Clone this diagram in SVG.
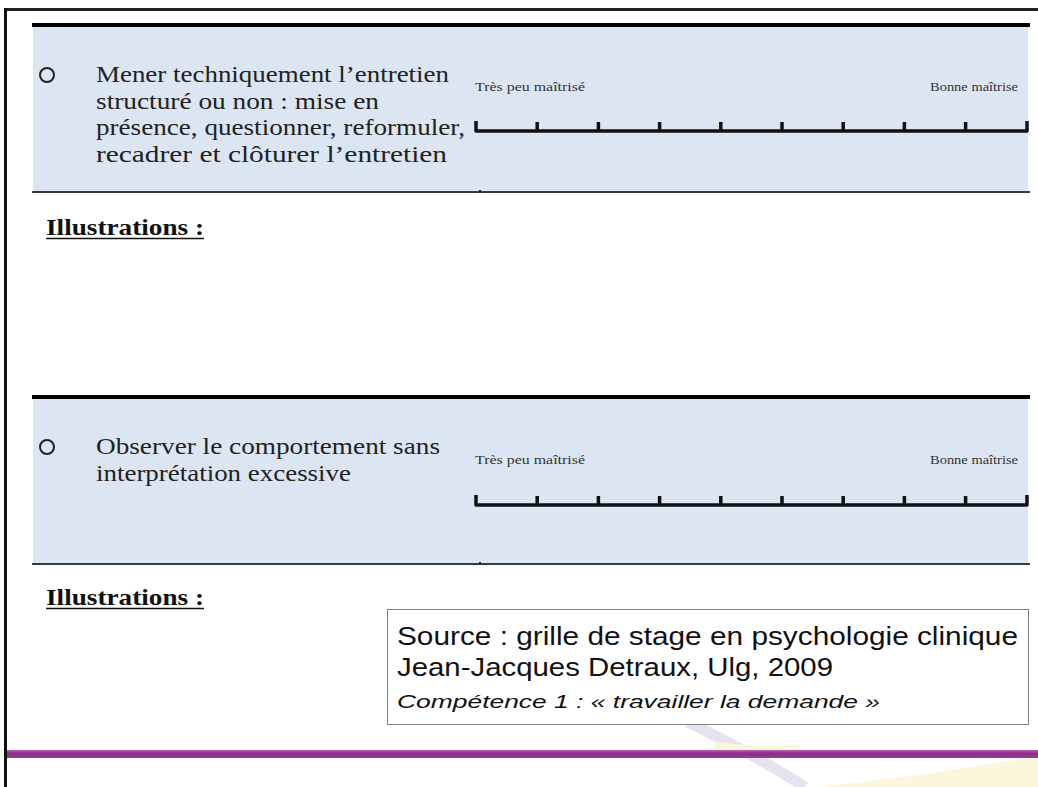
<svg xmlns="http://www.w3.org/2000/svg" width="1038" height="787" viewBox="0 0 1038 787">
<defs>
<style>
.band{fill:#dce6f2}
.topline{stroke:#000;stroke-width:4}
.botline{stroke:#3a3a3a;stroke-width:2}
.item{font-family:"Liberation Serif","Times New Roman",serif;font-size:24px;fill:#222}
.lab{font-family:"Liberation Serif","Times New Roman",serif;font-size:13px;fill:#333}
.bul{fill:none;stroke:#222;stroke-width:2}
.bar{fill:none;stroke:#111;stroke-width:3.5;stroke-linejoin:round}
.ill{font-family:"Liberation Serif","Times New Roman",serif;font-size:24px;font-weight:bold;fill:#111}
.src{font-family:"Liberation Sans",Arial,sans-serif;font-size:25px;fill:#111}
.srci{font-family:"Liberation Sans",Arial,sans-serif;font-size:19px;font-style:italic;fill:#111}
</style>
<linearGradient id="purple" x1="0" y1="0" x2="0" y2="1">
<stop offset="0" stop-color="#b667b3"/>
<stop offset="0.4" stop-color="#8e2a8c"/>
<stop offset="1" stop-color="#9a3c98"/>
</linearGradient>
</defs>
<rect width="1038" height="787" fill="#fff"/>
<g id="swoosh">
<path d="M688 722 Q750 752 805 787" fill="none" stroke="#e6e2f2" stroke-width="11"/>
<path d="M715 745 Q760 752 800 748" fill="none" stroke="#fcf6d8" stroke-width="7"/>
<path d="M820 787 Q930 775 1038 756 L1038 787 Z" fill="#fcf7dc"/>
</g>
<g id="frame">
<rect x="4" y="8" width="1034" height="3" fill="#222"/>
<rect x="4" y="8" width="3" height="779" fill="#111"/>
</g>
<g id="item1">
<rect class="band" x="33" y="27" width="995" height="165"/>
<line class="topline" x1="32" y1="25" x2="1030" y2="25"/>
<line class="botline" x1="32" y1="192" x2="1030" y2="192"/>
<rect x="479" y="190" width="2" height="3" fill="#222"/>
<circle class="bul" cx="47" cy="75" r="7"/>
<text class="item" x="96" y="82" textLength="353" lengthAdjust="spacingAndGlyphs">Mener techniquement l’entretien</text>
<text class="item" x="96" y="109" textLength="283" lengthAdjust="spacingAndGlyphs">structuré ou non : mise en</text>
<text class="item" x="96" y="135" textLength="369" lengthAdjust="spacingAndGlyphs">présence, questionner, reformuler,</text>
<text class="item" x="96" y="162" textLength="351" lengthAdjust="spacingAndGlyphs">recadrer et clôturer l’entretien</text>
<text class="lab" x="475" y="91" textLength="110" lengthAdjust="spacingAndGlyphs">Très peu maîtrisé</text>
<text class="lab" x="930" y="91" textLength="88" lengthAdjust="spacingAndGlyphs">Bonne maîtrise</text>
<path class="bar" d="M476 121 V131 H1027 V121 M537.2 131 V122 M598.4 131 V122 M659.6 131 V122 M720.8 131 V122 M782 131 V122 M843.2 131 V122 M904.4 131 V122 M965.6 131 V122"/>
</g>
<g id="illus1">
<text class="ill" x="46" y="235" textLength="158" lengthAdjust="spacingAndGlyphs">Illustrations :</text>
<line x1="46" y1="238.5" x2="204" y2="238.5" stroke="#111" stroke-width="1.5"/>
</g>
<g id="item2">
<rect class="band" x="33" y="399" width="995" height="165"/>
<line class="topline" x1="32" y1="397" x2="1030" y2="397"/>
<line class="botline" x1="32" y1="564" x2="1030" y2="564"/>
<rect x="479" y="562" width="2" height="3" fill="#222"/>
<circle class="bul" cx="47" cy="447" r="7"/>
<text class="item" x="96" y="454" textLength="344" lengthAdjust="spacingAndGlyphs">Observer le comportement sans</text>
<text class="item" x="96" y="481" textLength="255" lengthAdjust="spacingAndGlyphs">interprétation excessive</text>
<text class="lab" x="475" y="464" textLength="110" lengthAdjust="spacingAndGlyphs">Très peu maîtrisé</text>
<text class="lab" x="930" y="464" textLength="88" lengthAdjust="spacingAndGlyphs">Bonne maîtrise</text>
<path class="bar" d="M476 495 V505 H1027 V495 M537.2 505 V496 M598.4 505 V496 M659.6 505 V496 M720.8 505 V496 M782 505 V496 M843.2 505 V496 M904.4 505 V496 M965.6 505 V496"/>
</g>
<g id="illus2">
<text class="ill" x="46" y="605" textLength="158" lengthAdjust="spacingAndGlyphs">Illustrations :</text>
<line x1="46" y1="608.5" x2="204" y2="608.5" stroke="#111" stroke-width="1.5"/>
</g>
<g id="source">
<rect x="387.5" y="609.5" width="641" height="115" fill="#fff" stroke="#808080" stroke-width="1"/>
<text class="src" x="397" y="645" textLength="621" lengthAdjust="spacingAndGlyphs">Source : grille de stage en psychologie clinique</text>
<text class="src" x="397" y="676" textLength="436" lengthAdjust="spacingAndGlyphs">Jean-Jacques Detraux, Ulg, 2009</text>
<text class="srci" x="397" y="708" textLength="483" lengthAdjust="spacingAndGlyphs">Compétence 1 : « travailler la demande »</text>
</g>
<rect id="footer" x="7" y="750" width="1031" height="8" fill="url(#purple)"/>
</svg>
